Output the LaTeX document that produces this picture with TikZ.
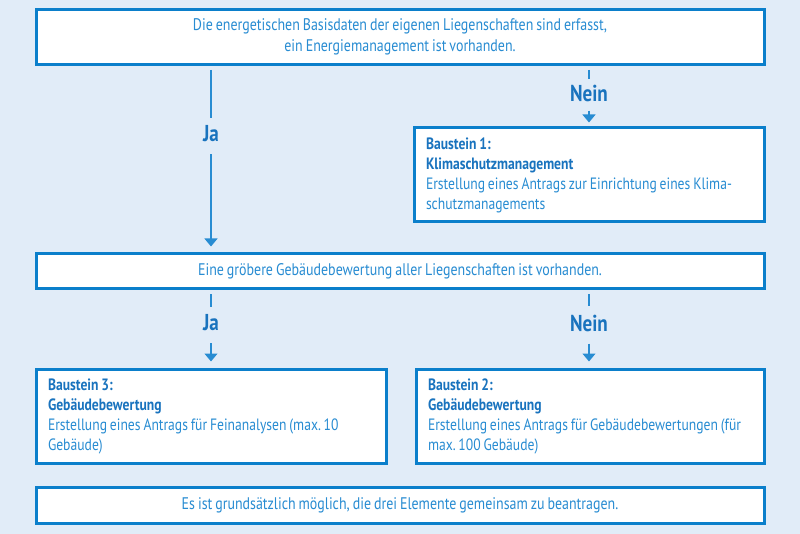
\documentclass[tikz,border=0pt]{standalone}
\usepackage{fontspec}
\setmainfont{PT Sans}[FakeStretch=0.83, WordSpace=0.8]
\usepackage{xcolor}
\usetikzlibrary{arrows.meta, positioning}
\definecolor{bgblue}{RGB}{225,236,248}
\definecolor{lineblue}{RGB}{11,127,203}
\definecolor{txtblue}{RGB}{40,140,210}
\definecolor{headblue}{RGB}{25,115,190}
\newcommand{\bhead}[1]{{\bfseries\color{headblue}#1}}
\tikzset{
    infobox/.style={rectangle, draw=lineblue, line width=3pt, fill=white, text=txtblue, font=\fontsize{16.8}{20.5}\selectfont, align=center, inner sep=0pt},
    bstein/.style={infobox, align=flush left, font=\fontsize{16.4}{20}\selectfont, inner xsep=12pt, minimum height=94pt},
    answer/.style={text=headblue, font=\fontsize{23}{26}\selectfont\bfseries, inner xsep=2pt, inner ysep=8pt},
    flowline/.style={draw=txtblue, line width=1.3pt, shorten <=4pt},
    flowarrow/.style={flowline, -{Triangle[width=13pt,length=8pt]}, shorten >=6pt}
}
\begin{document}
\begin{tikzpicture}[x=1pt, y=-1pt]
  \fill[bgblue] (0,0) rectangle (800,534);
  \useasboundingbox (0,0) rectangle (800,534);
  % boxes
  \node[infobox, minimum width=728pt, minimum height=55pt] (basis) at (400,37) {Die energetischen Basisdaten der eigenen Liegenschaften sind erfasst,\\ein Energiemanagement ist vorhanden.};
  \node[bstein, text width=326pt] (bs1) at (589,175) {\bhead{Baustein 1:}\\\bhead{Klimaschutzmanagement}\\Erstellung eines Antrags zur Einrichtung eines Klima-\\schutzmanagements};
  \node[infobox, minimum width=728pt, minimum height=35pt] (grob) at (400,271.5) {Eine gröbere Gebäudebewertung aller Liegenschaften ist vorhanden.};
  \node[bstein, text width=326pt] (bs3) at (211,416) {\bhead{Baustein 3:}\\\bhead{Gebäudebewertung}\\Erstellung eines Antrags für Feinanalysen (max.\,10\\Gebäude)};
  \node[bstein, text width=324pt] (bs2) at (590,416) {\bhead{Baustein 2:}\\\bhead{Gebäudebewertung}\\Erstellung eines Antrags für Gebäudebewertungen (für\\max.\,100 Gebäude)};
  \node[infobox, minimum width=728pt, minimum height=36pt] (gemein) at (400,505) {Es ist grundsätzlich möglich, die drei Elemente gemeinsam zu beantragen.};
  % answers
  \node[answer] (ja1) at (211,134) {Ja};
  \node[answer, inner ysep=5pt] (nein1) at (589,93) {Nein};
  \node[answer] (ja2) at (211,323) {Ja};
  \node[answer] (nein2) at (589,323) {Nein};
  % connectors
  \draw[flowline] (basis.south -| ja1) -- (ja1);
  \draw[flowarrow] (ja1) -- (grob.north -| ja1);
  \draw[flowline] (basis.south -| nein1) -- (nein1);
  \draw[flowarrow, shorten >=4pt] (nein1) -- (bs1.north -| nein1);
  \draw[flowline] (grob.south -| ja2) -- (ja2);
  \draw[flowarrow] (ja2) -- (bs3.north -| ja2);
  \draw[flowline] (grob.south -| nein2) -- (nein2);
  \draw[flowarrow] (nein2) -- (bs2.north -| nein2);
\end{tikzpicture}
\end{document}
